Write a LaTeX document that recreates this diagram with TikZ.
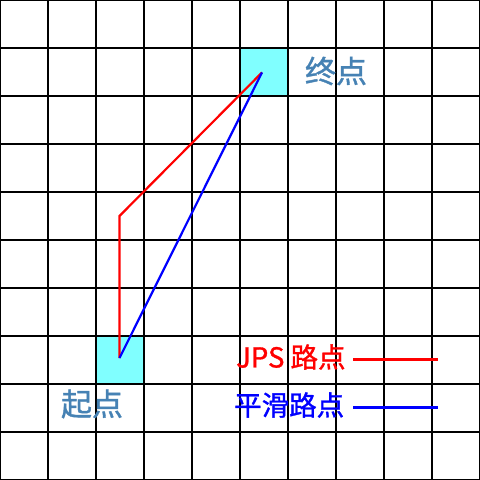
\documentclass[tikz,border=0pt]{standalone}
\usepackage{fontspec}
\newfontfamily\cjk[FakeBold=1.2]{Noto Sans CJK SC}
\definecolor{cellcyan}{HTML}{80FFFF}
\definecolor{lblblue}{HTML}{4682B4}
\begin{document}
\begin{tikzpicture}[x=1bp,y=-1bp,
  gridline/.style={line width=2bp,black},
  lbl/.style={font=\cjk\fontsize{31bp}{32bp}\selectfont,text=lblblue,inner sep=0pt},
  leg/.style={font=\cjk\fontsize{27.5bp}{29bp}\selectfont,inner sep=0pt,anchor=west},
  jps/.style={red,line width=2.2bp},
  smooth/.style={blue,line width=2.2bp},
  legline/.style={line width=3bp}]
\useasboundingbox (0,0) rectangle (480,480);
\fill[white] (0,0) rectangle (480,480);
\fill[cellcyan] (240,48) rectangle (288,96);
\fill[cellcyan] (96,336) rectangle (144,384);
\foreach \i in {0,48,...,480} {
  \draw[gridline] (\i,0) -- (\i,480);
  \draw[gridline] (0,\i) -- (480,\i);
}
\coordinate (s) at (119.5,358);
\coordinate (m) at (119.5,216);
\coordinate (e) at (262,72.5);
\draw[jps,line join=miter] (s) -- (m) -- (e);
\draw[smooth] (s) -- (e);
\node[lbl] (goal) at (336,71) {终点};
\node[lbl] (start) at (92,404) {起点};
\node[leg,text=red] (l1) at (236,357) {JPS 路点};
\node[leg,text=blue] (l2) at (234,405) {平滑路点};
\coordinate (r1) at (353,359);
\coordinate (r2) at (438,359);
\coordinate (b1) at (353,407);
\coordinate (b2) at (438,407);
\draw[legline,red] (r1) -- (r2);
\draw[legline,blue] (b1) -- (b2);
\end{tikzpicture}
\end{document}
